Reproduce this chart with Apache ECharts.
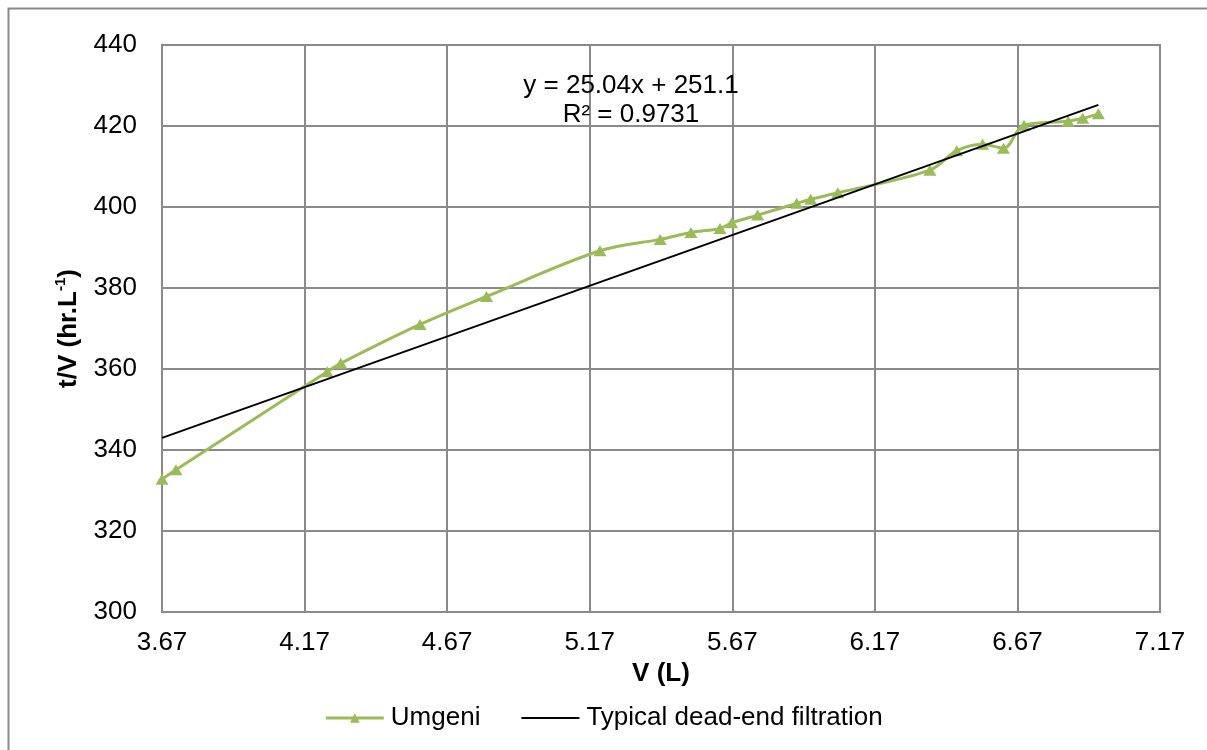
<!DOCTYPE html>
<html>
<head>
<meta charset="utf-8">
<script src="https://cdn.jsdelivr.net/npm/echarts@6/dist/echarts.min.js"></script>
<style>
  html, body { margin: 0; padding: 0; background: #fff; }
  #chart { width: 1207px; height: 750px; }
</style>
</head>
<body>
<div id="chart"></div>
<script>
// Filtered volume V (L) and t/V (hr.L^-1) for the Umgeni water
const volume = [3.670, 3.719, 4.249, 4.297, 4.575, 4.808, 5.206, 5.417, 5.525, 5.627,
                5.668, 5.759, 5.896, 5.945, 6.040, 6.363, 6.457, 6.548, 6.621, 6.693,
                6.848, 6.899, 6.954];
const tOverV = [332.8, 335.1, 359.3, 361.4, 371.0, 377.9, 389.2, 392.0, 393.7, 394.7,
                396.1, 398.0, 400.9, 401.9, 403.5, 409.1, 413.9, 415.5, 414.5, 420.2,
                421.2, 421.9, 423.0];

// Linear fit of the data (typical dead-end filtration)
const fitSlope = 25.04;
const fitIntercept = 251.1;
const fitR2 = 0.9731;
const fitRange = [3.67, 6.954];

const xTicks = { min: 3.67, max: 7.17, step: 0.5 };
const yTicks = { min: 300, max: 440, step: 20 };

const umgeni = volume.map((v, i) => [v, tOverV[i]]);
const fitLine = fitRange.map(v => [v, fitSlope * v + fitIntercept]);

const FONT = '"Liberation Sans", Arial, sans-serif';
const GRID_COLOR = '#8a8a8a';
const GREEN = '#9BBB59';

const chart = echarts.init(document.getElementById('chart'), null, { renderer: 'canvas' });

chart.setOption({
  backgroundColor: '#fff',
  animation: false,
  textStyle: { fontFamily: FONT, color: '#000' },
  grid: { left: 162, right: 47, top: 45, bottom: 138, show: true, borderColor: GRID_COLOR, borderWidth: 2 },
  xAxis: {
    type: 'value',
    min: xTicks.min, max: xTicks.max, interval: xTicks.step,
    name: 'V (L)',
    nameLocation: 'middle',
    nameGap: 46,
    nameTextStyle: { fontFamily: FONT, fontSize: 26, fontWeight: 'bold', color: '#000' },
    axisLine: { show: true, lineStyle: { color: GRID_COLOR, width: 2 } },
    axisTick: { show: false },
    axisLabel: { fontFamily: FONT, fontSize: 26, color: '#000', margin: 18,
                 formatter: v => Number(v).toFixed(2) },
    splitLine: { show: true, lineStyle: { color: GRID_COLOR, width: 2 } }
  },
  yAxis: {
    type: 'value',
    min: yTicks.min, max: yTicks.max, interval: yTicks.step,
    name: '{a|t/V (hr.L}{s|-1}{a|)}',
    nameLocation: 'middle',
    nameGap: 76,
    nameRotate: 90,
    nameTextStyle: {
      fontFamily: FONT, fontSize: 26, fontWeight: 'bold', color: '#000',
      rich: {
        a: { fontFamily: FONT, fontSize: 26, fontWeight: 'bold', color: '#000', lineHeight: 30 },
        s: { fontFamily: FONT, fontSize: 15, fontWeight: 'bold', color: '#000', verticalAlign: 'top', lineHeight: 30, padding: [0, 0, 14, 0] }
      }
    },
    axisLine: { show: true, lineStyle: { color: GRID_COLOR, width: 2 } },
    axisTick: { show: false },
    axisLabel: { fontFamily: FONT, fontSize: 26, color: '#000', margin: 25 },
    splitLine: { show: true, lineStyle: { color: GRID_COLOR, width: 2 } }
  },
  legend: {
    bottom: 14,
    left: 'center',
    itemWidth: 58,
    itemHeight: 12,
    itemGap: 40,
    textStyle: { fontFamily: FONT, fontSize: 26, color: '#000', padding: [0, 0, 0, 2] },
    data: [
      { name: 'Umgeni', lineStyle: { width: 3, color: GREEN } },
      { name: 'Typical dead-end filtration', itemStyle: { opacity: 0 }, lineStyle: { width: 2, color: '#000' } }
    ]
  },
  series: [
    {
      name: 'Umgeni',
      type: 'line',
      data: umgeni,
      smooth: 0.35,
      symbol: 'triangle',
      symbolSize: [13, 11],
      showAllSymbol: true,
      lineStyle: { color: GREEN, width: 3 },
      itemStyle: { color: GREEN },
      z: 3
    },
    {
      name: 'Typical dead-end filtration',
      type: 'line',
      data: fitLine,
      symbol: 'none',
      lineStyle: { color: '#000', width: 2 },
      itemStyle: { color: '#000' },
      z: 4
    }
  ],
  graphic: [
    {
      type: 'rect',
      left: 6, top: 6,
      shape: { width: 1220, height: 760 },
      style: { fill: 'none', stroke: GRID_COLOR, lineWidth: 2 },
      silent: true
    },
    {
      type: 'text',
      x: 631, y: 71,
      style: {
        text: 'y = ' + fitSlope.toFixed(2) + 'x + ' + fitIntercept.toFixed(1) + '\nR² = ' + fitR2.toFixed(4),
        fontFamily: FONT, fontSize: 26, fill: '#000', align: 'center', lineHeight: 29
      },
      z: 10
    }
  ]
});
</script>
</body>
</html>
